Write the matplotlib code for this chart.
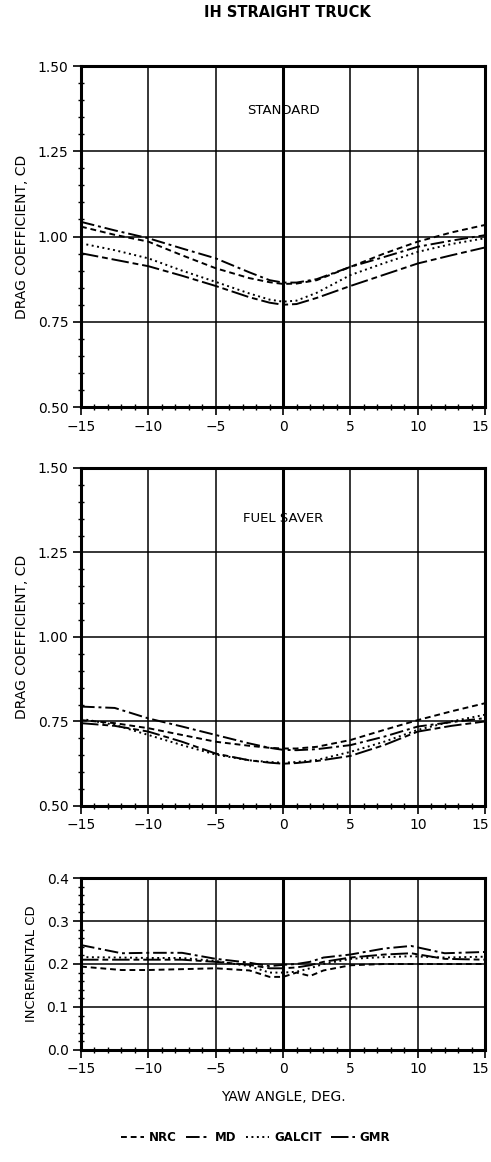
import matplotlib.pyplot as plt
from matplotlib.lines import Line2D
from matplotlib.ticker import MultipleLocator, FormatStrFormatter
from matplotlib.transforms import ScaledTranslation

# yaw angles (deg) for the drag coefficient panels
yaw = [-15, -12.5, -10, -7.5, -5, -2.5, -1, 0, 1, 2.5, 5, 7.5, 10, 12.5, 15]

# standard truck
nrc_std = [1.029, 1.005, 0.985, 0.945, 0.907, 0.878, 0.866, 0.861, 0.862, 0.872, 0.911, 0.950, 0.985, 1.012, 1.034]
md_std = [1.043, 1.018, 0.995, 0.965, 0.936, 0.895, 0.872, 0.865, 0.865, 0.875, 0.911, 0.940, 0.970, 0.988, 1.004]
galcit_std = [0.980, 0.960, 0.936, 0.900, 0.867, 0.833, 0.815, 0.809, 0.812, 0.835, 0.887, 0.922, 0.955, 0.978, 0.995]
gmr_std = [0.951, 0.932, 0.913, 0.885, 0.855, 0.822, 0.806, 0.800, 0.802, 0.820, 0.855, 0.888, 0.921, 0.945, 0.968]

# truck with fuel saver
nrc_fs = [0.754, 0.745, 0.730, 0.710, 0.690, 0.678, 0.672, 0.670, 0.670, 0.675, 0.695, 0.725, 0.754, 0.780, 0.804]
md_fs = [0.794, 0.790, 0.759, 0.735, 0.710, 0.685, 0.672, 0.666, 0.665, 0.668, 0.680, 0.705, 0.735, 0.748, 0.760]
galcit_fs = [0.758, 0.740, 0.710, 0.680, 0.652, 0.635, 0.630, 0.628, 0.630, 0.636, 0.660, 0.690, 0.725, 0.750, 0.770]
gmr_fs = [0.745, 0.737, 0.720, 0.690, 0.655, 0.635, 0.628, 0.625, 0.627, 0.633, 0.648, 0.680, 0.720, 0.737, 0.750]

# incremental CD
yaw_inc = [-15, -12, -10, -7.5, -5, -2.5, -1, 0, 1, 2, 3, 5, 7.5, 9.5, 12, 15]
nrc_inc = [0.194, 0.186, 0.186, 0.188, 0.190, 0.185, 0.170, 0.170, 0.180, 0.172, 0.185, 0.197, 0.200, 0.200, 0.200, 0.200]
md_inc = [0.244, 0.225, 0.226, 0.226, 0.212, 0.203, 0.195, 0.198, 0.200, 0.205, 0.215, 0.222, 0.236, 0.242, 0.225, 0.228]
galcit_inc = [0.216, 0.215, 0.214, 0.214, 0.207, 0.195, 0.180, 0.180, 0.182, 0.190, 0.200, 0.212, 0.216, 0.218, 0.215, 0.217]
gmr_inc = [0.210, 0.210, 0.210, 0.210, 0.205, 0.198, 0.190, 0.190, 0.192, 0.197, 0.205, 0.215, 0.222, 0.225, 0.212, 0.210]

x_ticks = [-15, -10, -5, 0, 5, 10, 15]
x_labels = ["\u221215", "\u221210", "\u22125", "0", "5", "10", "15"]

STYLES = {
    "NRC": (0, (3, 2)),
    "MD": (0, (7, 2, 1.5, 2)),
    "GALCIT": (0, (1, 1.8)),
    "GMR": (0, (9, 2, 3, 2)),
}


def style_axes(ax, ymin, ymax, major, minor, fmt):
    ax.set_xlim(-15, 15)
    ax.set_ylim(ymin, ymax)
    ax.set_xticks(x_ticks)
    ax.set_xticklabels(x_labels)
    ax.xaxis.set_minor_locator(MultipleLocator(1))
    ax.yaxis.set_major_locator(MultipleLocator(major))
    ax.yaxis.set_minor_locator(MultipleLocator(minor))
    ax.yaxis.set_major_formatter(FormatStrFormatter(fmt))
    ax.grid(True, which="major", color="black", lw=1.1)
    ax.axvline(0, color="black", lw=2.2)
    for sp in ax.spines.values():
        sp.set_linewidth(2.2)
    ax.tick_params(which="major", direction="out", length=6, width=1.2, labelsize=10, pad=3)
    ax.tick_params(which="minor", direction="inout", length=5, width=1.0)
    # keep the last x label inside the figure
    last = ax.get_xticklabels()[-1]
    last.set_transform(last.get_transform() + ScaledTranslation(-3.5 / 72, 0, fig.dpi_scale_trans))


def draw_set(ax, x, nrc, md, galcit, gmr):
    ax.plot(x, nrc, color="black", lw=1.4, linestyle=STYLES["NRC"])
    ax.plot(x, md, color="black", lw=1.4, linestyle=STYLES["MD"])
    ax.plot(x, galcit, color="black", lw=1.4, linestyle=STYLES["GALCIT"])
    ax.plot(x, gmr, color="black", lw=1.4, linestyle=STYLES["GMR"])


fig = plt.figure(figsize=(4.91, 11.62), dpi=100)
ax1 = fig.add_axes([0.165, 0.6497, 0.823, 0.2935])
ax2 = fig.add_axes([0.165, 0.3064, 0.823, 0.2909])
ax3 = fig.add_axes([0.165, 0.0964, 0.823, 0.148])

draw_set(ax1, yaw, nrc_std, md_std, galcit_std, gmr_std)
style_axes(ax1, 0.5, 1.5, 0.25, 0.05, "%.2f")
ax1.set_ylabel("DRAG COEFFICIENT, CD", fontsize=10, labelpad=6)
ax1.text(0, 1.37, "STANDARD", ha="center", va="center", fontsize=9.5)

draw_set(ax2, yaw, nrc_fs, md_fs, galcit_fs, gmr_fs)
style_axes(ax2, 0.5, 1.5, 0.25, 0.05, "%.2f")
ax2.set_ylabel("DRAG COEFFICIENT, CD", fontsize=10, labelpad=6)
ax2.text(0, 1.35, "FUEL SAVER", ha="center", va="center", fontsize=9.5)

draw_set(ax3, yaw_inc, nrc_inc, md_inc, galcit_inc, gmr_inc)
style_axes(ax3, 0.0, 0.4, 0.1, 0.02, "%.1f")
ax3.set_ylabel("INCREMENTAL CD", fontsize=9.5, labelpad=6)
ax3.set_xlabel("YAW ANGLE, DEG.", fontsize=10, labelpad=10)

fig.text(0.585, 0.989, "IH STRAIGHT TRUCK", ha="center", va="center", fontsize=10.5, fontweight="bold")

handles = [Line2D([], [], color="black", lw=1.4, linestyle=STYLES[k]) for k in STYLES]
fig.legend(handles, list(STYLES.keys()), loc="center", bbox_to_anchor=(0.52, 0.021), ncol=4,
           frameon=False, handlelength=2.0, handletextpad=0.4, columnspacing=0.8,
           prop={"weight": "bold", "size": 8.5})

fig.savefig("out.png", dpi=100)
